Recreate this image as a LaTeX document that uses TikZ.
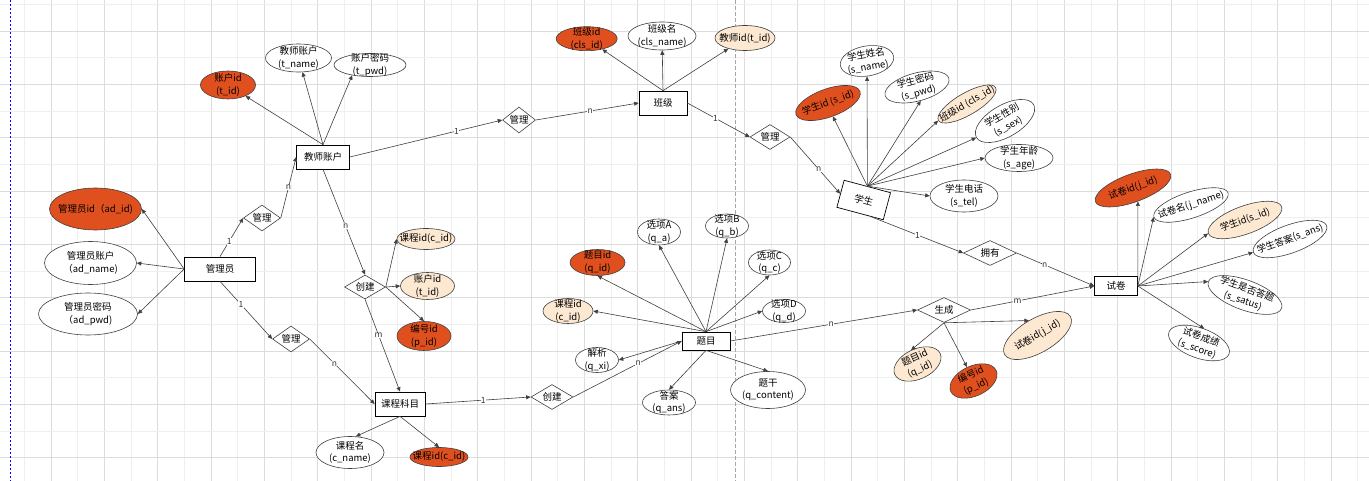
\documentclass[tikz,border=0pt]{standalone}
\usepackage{fontspec}
\setmainfont{Noto Sans CJK SC}
\usetikzlibrary{shapes.geometric,arrows.meta,calc}
\definecolor{keyred}{HTML}{E0501F}
\definecolor{fkfill}{HTML}{FDE8D2}
\definecolor{edgec}{HTML}{404040}
\definecolor{gridlight}{HTML}{EFEFEF}
\definecolor{griddark}{HTML}{DCDCDC}
\definecolor{cardc}{HTML}{333333}
\begin{document}
\begin{tikzpicture}[x=1pt,y=-1pt, font=\fontsize{9.5}{12.5}\selectfont,
  sz/.style 2 args={minimum width=#1pt, minimum height=#2pt},
  attr/.style={ellipse, draw=edgec, fill=white, line width=0.6pt, inner xsep=-14pt, inner ysep=-5pt, align=center},
  keyattr/.style={attr, fill=keyred},
  fkattr/.style={attr, fill=fkfill},
  entity/.style={rectangle, draw=black, fill=white, line width=0.7pt, inner sep=0pt, align=center},
  rel/.style={diamond, draw=edgec, fill=white, line width=0.6pt, inner sep=0pt, aspect=1.4},
  conn/.style={draw=edgec, line width=0.6pt, -{Triangle[length=4.5pt,width=4pt]}},
  card/.style={fill=white, inner sep=0.4pt, font=\fontsize{8.5}{8.5}\selectfont, text=cardc},
]
% background and grid
\fill[white] (0,0) rectangle (1369,481);
\useasboundingbox (0,0) rectangle (1369,481);
\foreach \k in {0,...,51} {
  \pgfmathsetmacro\xx{24.33+26.67*\k}
  \ifodd\k \draw[griddark, line width=0.9pt] (\xx,0) -- (\xx,481);
  \else \draw[gridlight, line width=0.9pt] (\xx,0) -- (\xx,481); \fi
}
\foreach \k in {0,...,17} {
  \pgfmathsetmacro\yy{4.33+26.67*\k}
  \ifodd\k \draw[griddark, line width=0.9pt] (0,\yy) -- (1369,\yy);
  \else \draw[gridlight, line width=0.9pt] (0,\yy) -- (1369,\yy); \fi
}
\draw[blue, line width=1pt, dash pattern=on 2pt off 2pt] (10.5,0) -- (10.5,481);
\draw[black!35, line width=0.8pt, dash pattern=on 4pt off 2pt] (735.3,0) -- (735.3,481);

% entities
\node[entity, sz={53}{24}] (teacher) at (323,157) {教师账户};
\node[entity, sz={71}{24}] (admin) at (220,269) {管理员};
\node[entity, sz={50}{24}] (course) at (400,404) {课程科目};
\node[entity, sz={48}{24}] (class) at (663,103) {班级};
\node[entity, sz={48}{18}] (question) at (706,341) {题目};
\node[entity, sz={48}{28}, rotate=-15] (student) at (863.7,200) {学生};
\node[entity, sz={43}{19}] (paper) at (1116,286) {试卷};

% relationships
\node[rel, sz={37}{26}] (m1) at (262,218) {管理};
\node[rel, sz={33}{26}] (m2) at (519,120) {管理};
\node[rel, sz={40}{25}] (m3) at (770,137) {管理};
\node[rel, sz={37}{26}] (m4) at (291,339) {管理};
\node[rel, sz={41}{24}] (c1) at (365,287) {创建};
\node[rel, sz={42}{25}] (c2) at (552,397) {创建};
\node[rel, sz={53}{25}] (own) at (990,253) {拥有};
\node[rel, sz={53}{25}] (gen) at (944,310) {生成};

% admin attributes
\node[keyattr, sz={92}{42}] (adid) at (95.5,209) {管理员id（ad\_id)};
\node[attr, sz={92}{43}] (adname) at (90.5,263) {管理员账户\\（ad\_name)};
\node[attr, sz={99}{42}] (adpwd) at (88,314) {管理员密码\\（ad\_pwd)};

% teacher attributes
\node[keyattr, sz={55}{28}] (tid) at (228,85) {账户id\\(t\_id)};
\node[attr, sz={66}{28}] (tname) at (298.5,58) {教师账户\\(t\_name)};
\node[attr, sz={72}{23}] (tpwd) at (370,65) {账户密码\\(t\_pwd)};

% class attributes
\node[keyattr, sz={61}{24}] (clsid) at (586.7,38.7) {班级id\\(cls\_id)};
\node[attr, sz={68}{28}] (clsname) at (662,36) {班级名\\(cls\_name)};
\node[fkattr, sz={60}{25}] (clstid) at (745,38) {教师id(t\_id)};

% create (teacher-course) attributes
\node[fkattr, sz={58}{21}] (c1cid) at (426,239) {课程id(c\_id)};
\node[fkattr, sz={54}{27}] (c1tid) at (427.5,286) {账户id\\(t\_id)};
\node[keyattr, sz={54}{29}] (c1pid) at (424,336) {编号id\\(p\_id)};

% course attributes
\node[attr, sz={68}{32}] (cname) at (350,452.5) {课程名\\(c\_name)};
\node[keyattr, sz={58}{19}] (ccid) at (439,457) {课程id(c\_id)};

% question attributes
\node[keyattr, sz={55}{26}] (qid) at (597.5,262.5) {题目id\\(q\_id)};
\node[attr, sz={43}{26}] (qa) at (659,232) {选项A\\(q\_a)};
\node[attr, sz={43}{24}] (qb) at (727,226) {选项B\\(q\_b)};
\node[attr, sz={42}{25}] (qc) at (769.5,262.5) {选项C\\(q\_c)};
\node[attr, sz={43}{23}] (qd) at (784,311) {选项D\\(q\_d)};
\node[fkattr, sz={50}{25}] (qcid) at (568,311) {课程id\\(c\_id)};
\node[attr, sz={43}{25}] (qxi) at (597,360) {解析\\(q\_xi)};
\node[attr, sz={53}{25}] (qans) at (669,402.5) {答案\\(q\_ans)};
\node[attr, sz={75}{37}] (qcont) at (768,390) {题干\\(q\_content)};

% student attributes
\node[keyattr, sz={68}{28}, rotate=20] (sid) at (828,103) {学生id (s\_id)};
\node[attr, sz={54}{30}, rotate=10] (sname) at (867,61) {学生姓名\\(s\_name)};
\node[attr, sz={66}{28}, rotate=15] (spwd) at (917,87) {学生密码\\(s\_pwd)};
\node[fkattr, sz={66}{22}, rotate=30] (sclsid) at (967,104) {班级id (cls\_id)};
\node[attr, sz={66}{32}, rotate=30] (ssex) at (1005,121) {学生性别\\(s\_sex)};
\node[attr, sz={68}{27}] (sage) at (1019,158) {学生年龄\\(s\_age)};
\node[attr, sz={68}{32}] (stel) at (964,196) {学生电话\\(s\_tel)};

% paper attributes
\node[keyattr, sz={80}{28}, rotate=20] (pjid) at (1133,188) {试卷id(j\_id)};
\node[attr, sz={78}{26}, rotate=18] (pjname) at (1191,205) {试卷名(j\_name)};
\node[fkattr, sz={78}{28}, rotate=20] (psid) at (1245,220) {学生id(s\_id)};
\node[attr, sz={78}{28}, rotate=20] (psans) at (1290,239) {学生答案(s\_ans)};
\node[attr, sz={78}{30}, rotate=-20] (pstatus) at (1245,295) {学生是否答题\\(s\_satus)};
\node[attr, sz={64}{30}, rotate=-20] (pscore) at (1199,343) {试卷成绩\\(s\_score)};

% generate attributes
\node[fkattr, sz={50}{30}, rotate=25] (gqid) at (917.5,364) {题目id\\(q\_id)};
\node[keyattr, sz={50}{30}, rotate=25] (gpid) at (973.5,381) {编号id\\(p\_id)};
\node[fkattr, sz={76}{34}, rotate=30] (gjid) at (1037.5,335.5) {试卷id(j\_id)};

% connectors
\draw[conn] (admin.west) -- (adid.east);
\draw[conn] (admin.west) -- (adname.east);
\draw[conn] (admin.west) -- (adpwd.east);
\draw[conn] (admin.north) -- node[card,pos=0.4]{1} (m1.west);
\draw[conn] (m1.east) -- node[card,pos=0.5]{n} (teacher.west);
\draw[conn] (teacher.north) -- (tid);
\draw[conn] (teacher.north) -- (tname);
\draw[conn] (teacher.north) -- (tpwd.210);
\draw[conn] (teacher.east) -- node[card,pos=0.7]{1} (m2.west);
\draw[conn] (m2.east) -- node[card,pos=0.53]{n} (class.west);
\draw[conn] (class.east) -- node[card,pos=0.45]{1} (m3.west);
\draw[conn] (class.north) -- (clsid);
\draw[conn] (class.north) -- (clsname);
\draw[conn] (class.north) -- (clstid);
\draw[conn] (m3.east) -- node[card,pos=0.57]{n} (student.west);
\draw[conn] (student.north) -- (sid.south);
\draw[conn] (student.north) -- (sname);
\draw[conn] (student.north) -- (spwd.south);
\draw[conn] (student.north) -- (sclsid.west);
\draw[conn] (student.north) -- (ssex.west);
\draw[conn] (student.north) -- (sage.west);
\draw[conn] (student.north) -- (stel.west);
\coordinate (stubot) at ($(student.south)!0.5!(student.south east)$);
\draw[conn] (stubot) -- node[card,pos=0.5]{1} (own.west);
\draw[conn] (own.east) -- node[card,pos=0.36]{n} (paper.west);
\draw[conn] (question.east) -- node[card,pos=0.54]{n} (gen.west);
\draw[conn] (gen.east) -- node[card,pos=0.38]{m} (paper.west);
\draw[conn] (gen.south) -- (gqid.north);
\draw[conn] (gen.south) -- (gpid.north);
\draw[conn] (gen.south) -- (gjid.north);
\draw[conn] (paper.east) -- (pjid.south);
\draw[conn] (paper.east) -- (pjname.west);
\draw[conn] (paper.east) -- (psid.west);
\draw[conn] (paper.east) -- (psans.west);
\draw[conn] (paper.east) -- (pstatus.west);
\draw[conn] (paper.east) -- (pscore.north);
\draw[conn] (teacher.south) -- node[card,pos=0.54]{n} (c1.north);
\draw[conn] (c1.east) -- (c1cid.west);
\draw[conn] (c1.east) -- (c1tid.west);
\draw[conn] (c1.east) -- (c1pid.north);
\draw[conn] (c1.south) -- node[card,pos=0.39]{m} (course.north);
\draw[conn] (admin.south) -- node[card,pos=0.4]{1} (m4.west);
\draw[conn] (m4.east) -- node[card,pos=0.38]{n} (course.west);
\draw[conn] (course.east) -- node[card,pos=0.55]{1} (c2.west);
\draw[conn] (c2.east) -- node[card,pos=0.6]{n} (question.west);
\draw[conn] (course.south) -- (cname.70);
\draw[conn] (course.south) -- (ccid.north);
\draw[conn] (question.north) -- (qid.south);
\draw[conn] (question.north) -- (qa.south);
\draw[conn] (question.north) -- (qb.south);
\draw[conn] (question.north) -- (qc.south);
\draw[conn] (question.north) -- (qd.west);
\draw[conn] (question.north) -- (qcid.east);
\draw[conn] (question.west) -- (qxi.east);
\draw[conn] (question.south) -- (qans.north);
\draw[conn] (question.south) -- (qcont.north);
\end{tikzpicture}
\end{document}
